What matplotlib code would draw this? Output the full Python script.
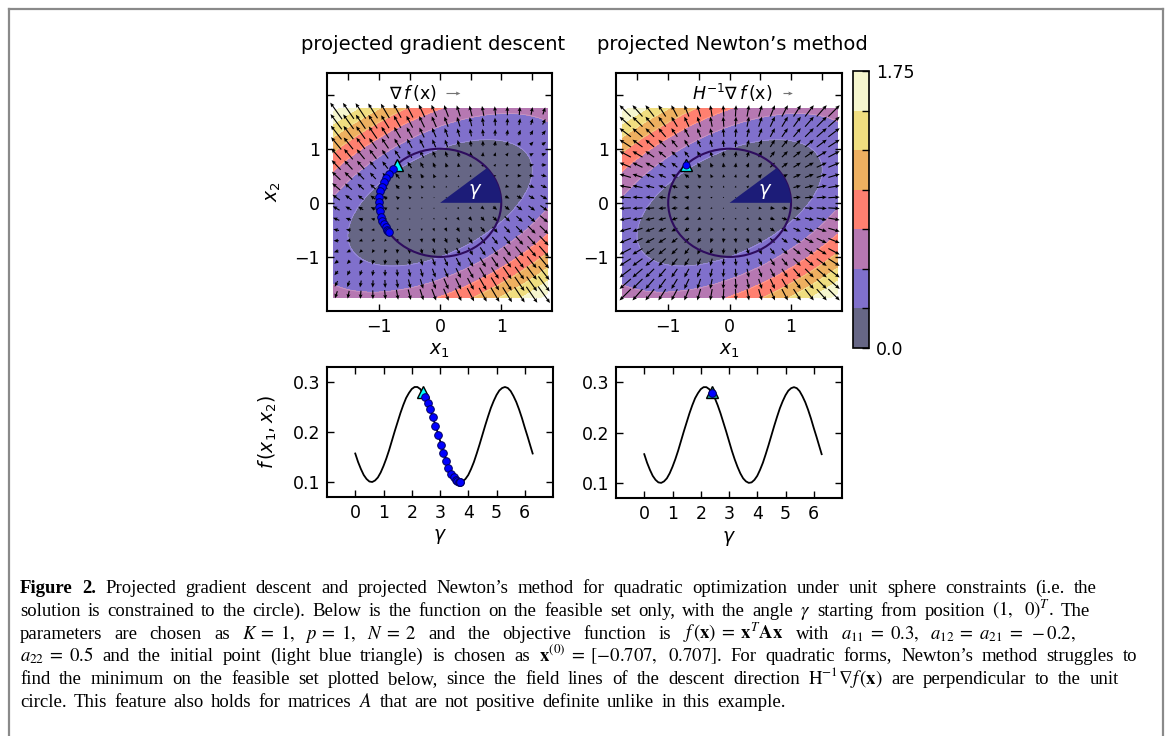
import numpy as np
import matplotlib
matplotlib.use("Agg")
import matplotlib.pyplot as plt
from matplotlib.colors import ListedColormap, BoundaryNorm
from matplotlib.patches import Circle, Wedge
from matplotlib.ticker import FixedLocator
from matplotlib.lines import Line2D

plt.rcParams['font.family'] = 'DejaVu Sans'
plt.rcParams['mathtext.fontset'] = 'dejavusans'

W, H = 1171, 736

# objective f(x) = 1/2 x^T A x, entries from the caption
a11, a12, a22 = 0.3, -0.2, 0.5
x_start = [-0.707, 0.707]

levels = [0.0, 0.25, 0.5, 0.75, 1.0, 1.25, 1.5, 1.75]
band_colors = ['#666685', '#8070cc', '#b678b2', '#ff8070', '#eeb060', '#f0de80', '#f6f6ce']

# f on the unit circle
gamma = [0.0, 0.1, 0.2, 0.3, 0.4, 0.5, 0.6, 0.7, 0.8, 0.9, 1.0, 1.1, 1.2, 1.3, 1.4, 1.5,
         1.6, 1.7, 1.8, 1.9, 2.0, 2.1, 2.2, 2.3, 2.4, 2.5, 2.6, 2.7, 2.8, 2.9, 3.0, 3.1,
         3.2, 3.3, 3.4, 3.5, 3.6, 3.7, 3.8, 3.9, 4.0, 4.1, 4.2, 4.3, 4.4, 4.5, 4.6, 4.7,
         4.8, 4.9, 5.0, 5.1, 5.2, 5.3, 5.4, 5.5, 5.6, 5.7, 5.8, 5.9, 6.0, 6.1, 6.2, 6.28]
f_circle = [0.157, 0.140, 0.126, 0.114, 0.106, 0.101, 0.100, 0.103, 0.109, 0.119, 0.132,
            0.147, 0.164, 0.183, 0.202, 0.220, 0.238, 0.254, 0.268, 0.278, 0.286, 0.290,
            0.290, 0.286, 0.278, 0.268, 0.254, 0.238, 0.220, 0.202, 0.183, 0.164, 0.147,
            0.132, 0.119, 0.109, 0.103, 0.100, 0.101, 0.106, 0.114, 0.126, 0.140, 0.157,
            0.175, 0.194, 0.213, 0.231, 0.248, 0.262, 0.274, 0.283, 0.288, 0.290, 0.288,
            0.282, 0.272, 0.260, 0.245, 0.228, 0.209, 0.191, 0.172, 0.157]

# projected gradient descent iterates (angle on circle, value)
gd_gamma = [2.46, 2.57, 2.66, 2.75, 2.84, 2.93, 3.03, 3.12, 3.21, 3.30, 3.40, 3.48,
            3.55, 3.61, 3.66, 3.70, 3.72]
gd_f = [0.271, 0.258, 0.246, 0.231, 0.213, 0.194, 0.175, 0.158, 0.143, 0.129, 0.117,
        0.110, 0.105, 0.102, 0.101, 0.100, 0.100]
start_gamma, start_f = 2.39, 0.281
newton_gamma, newton_f = 2.39, 0.278
wedge_angle = 40

caption = [
    "Figure 2. Projected gradient descent and projected Newton’s method for quadratic optimization under unit sphere constraints (i.e. the",
    r"solution is constrained to the circle). Below is the function on the feasible set only, with the angle $\gamma$ starting from position $(1,\ \ 0)^T$. The",
    r"parameters are chosen as $K\;=\;1,\ \ p\;=\;1,\ \ N\;=\;2$ and the objective function is $f\,(\mathbf{x})\;=\;\mathbf{x}^T\mathbf{A}\mathbf{x}$ with $a_{11}\;=\;0.3,\ \ a_{12}\;=\;a_{21}\;=\;-0.2,$",
    r"$a_{22}\;=\;0.5$ and the initial point (light blue triangle) is chosen as $\mathbf{x}^{(0)}\;=\;[-0.707,\ \ 0.707]$. For quadratic forms, Newton’s method struggles to",
    r"find the minimum on the feasible set plotted below, since the field lines of the descent direction $\mathrm{H}^{-1}\nabla f\,(\mathbf{x})$ are perpendicular to the unit",
    r"circle. This feature also holds for matrices $A$ that are not positive definite unlike in this example.",
]
cap_right = [1097, 1090, 1076, 1137, 1119, 786]
cap_base = [593, 616, 639, 661, 684, 707]
cap_left = 20
cap_size = 13.5

cmap = ListedColormap(band_colors)
norm = BoundaryNorm(levels, cmap.N)

xs = np.linspace(-1.75, 1.75, 141)
X, Y = np.meshgrid(xs, xs)
Z = 0.5 * (a11 * X**2 + 2 * a12 * X * Y + a22 * Y**2)
qs = np.arange(-1.7, 1.71, 0.2)
QX, QY = np.meshgrid(qs, qs)
GX = a11 * QX + a12 * QY
GY = a12 * QX + a22 * QY

fig = plt.figure(figsize=(W / 100, H / 100), dpi=100)


def px_axes(x0, y0, x1, y1):
    return fig.add_axes([x0 / W, 1 - y1 / H, (x1 - x0) / W, (y1 - y0) / H])


def style(ax):
    for s in ax.spines.values():
        s.set_linewidth(1.5)
    ax.tick_params(which='both', direction='in', top=True, right=True,
                   length=5, width=1, labelsize=12.5, pad=5)


def field_panel(ax, u, v, scale, key_x, key_u, key_label):
    cf = ax.contourf(X, Y, Z, levels=levels, cmap=cmap, norm=norm, zorder=1)
    ax.contour(X, Y, Z, levels=levels[1:-1], colors='white', linewidths=0.6, alpha=0.25, zorder=1)
    q = ax.quiver(QX, QY, u, v, pivot='middle', scale=scale, scale_units='inches',
                  width=0.005, headwidth=3.5, headlength=4, headaxislength=3.5,
                  color='k', zorder=3)
    ax.quiverkey(q, key_x, 0.916, key_u, key_label, labelpos='W', coordinates='axes',
                 color='0.45', labelsep=0.1, fontproperties={'size': 12.5})
    ax.add_patch(Circle((0, 0), 1, fill=False, ec='#2e0c5e', lw=1.5, zorder=4))
    ax.add_patch(Wedge((0, 0), 1, 0, wedge_angle, fc='#1c1c78', ec='none', zorder=4))
    ax.text(0.58, 0.2, r'$\gamma$', color='white', fontsize=14, ha='center', va='center', zorder=5)
    ax.set_xlim(-1.85, 1.83)
    ax.set_ylim(-2.0, 2.4)
    style(ax)
    ax.set_xticks([-1, 0, 1])
    ax.xaxis.set_minor_locator(FixedLocator([-1.5, -0.5, 0.5, 1.5]))
    ax.tick_params(axis='x', which='minor', bottom=False, top=True)
    ax.set_yticks([-1, 0, 1, 2], ['−1', '0', '1', ''])
    ax.set_xlabel(r'$x_1$', fontsize=13.5)
    return cf


# top row
ax1 = px_axes(327, 73, 552, 311)
cf = field_panel(ax1, GX, GY, 7.2, 0.531, 1.0, r'$\nabla\,f\,(\mathrm{x})$')
ax1.plot(x_start[0], x_start[1], '^', ms=8, mfc='cyan', mec='k', mew=1, zorder=6)
ax1.plot(np.cos(gd_gamma), np.sin(gd_gamma), 'o', ms=5.5, mfc='#0000ff', mec='#000060',
         mew=0.7, zorder=7)
ax1.set_ylabel(r'$x_2$', fontsize=13.5, labelpad=8)

ax2 = px_axes(616, 73, 842, 311)
field_panel(ax2, QX, QY, 15, 0.737, 1.4, r'$H^{-1}\nabla\,f\,(\mathrm{x})$')
ax2.plot(x_start[0], x_start[1], '^', ms=8, mfc='cyan', mec='k', mew=1, zorder=6)
ax2.plot(x_start[0], x_start[1], 'o', ms=5, mfc='#0000ff', mec='#000060', mew=0.7, zorder=7)

cax = px_axes(853, 71, 869, 348)
cb = fig.colorbar(cf, cax=cax, ticks=levels)
cb.ax.set_yticklabels(['0.0', '', '', '', '', '', '', '1.75'])
cb.ax.tick_params(direction='in', length=5, width=1, labelsize=12.5, pad=5)
cb.outline.set_linewidth(1.2)

fig.text(433 / W, 1 - 50 / H, 'projected gradient descent', ha='center', va='baseline', fontsize=14)
fig.text(732 / W, 1 - 50 / H, 'projected Newton’s method', ha='center', va='baseline', fontsize=14)


# bottom row
def curve_panel(ax):
    ax.plot(gamma, f_circle, color='k', lw=1.3, zorder=2)
    ax.set_xlim(-1, 7)
    ax.set_ylim(0.07, 0.33)
    style(ax)
    ax.set_xticks(range(7))
    ax.set_yticks([0.1, 0.2, 0.3])
    ax.set_xlabel(r'$\gamma$', fontsize=13.5)


ax3 = px_axes(327, 367, 553, 497)
curve_panel(ax3)
ax3.plot(start_gamma, start_f, '^', ms=8, mfc='cyan', mec='k', mew=1, zorder=3)
ax3.plot(gd_gamma, gd_f, 'o', ms=5.5, mfc='#0000ff', mec='#000060', mew=0.7, zorder=4)
ax3.set_ylabel(r'$f\,(x_1, x_2)$', fontsize=13.5, labelpad=10)

ax4 = px_axes(616, 367, 842, 498)
curve_panel(ax4)
ax4.plot(start_gamma, start_f, '^', ms=8, mfc='#20b0a0', mec='k', mew=1, zorder=3)
ax4.plot(newton_gamma, newton_f, 'o', ms=5.5, mfc='#0000ff', mec='#000060', mew=0.7, zorder=4)


def split_words(line):
    words, cur, in_math = [], '', False
    for ch in line:
        if ch == '$':
            in_math = not in_math
        if ch == ' ' and not in_math:
            words.append(cur)
            cur = ''
        else:
            cur += ch
    words.append(cur)
    return words


# caption, words spread over each line
renderer = fig.canvas.get_renderer()
for i, (line, right, base) in enumerate(zip(caption, cap_right, cap_base)):
    words = split_words(line)
    texts = []
    for j, w in enumerate(words):
        bold = i == 0 and j < 2
        texts.append(fig.text(0, 1 - base / H, w, family='Liberation Serif', size=cap_size,
                              weight='bold' if bold else 'normal', va='baseline',
                              math_fontfamily='stix'))
    widths = [t.get_window_extent(renderer).width for t in texts]
    gap = (right - cap_left - sum(widths)) / (len(words) - 1)
    x = cap_left
    for t, w in zip(texts, widths):
        t.set_x(x / W)
        x += w + gap

# page frame
for fx, fy in [((8.5, 8.5), (736, 8.5)), ((8.5, 1163), (8.5, 8.5)), ((1163, 1163), (8.5, 736))]:
    fig.add_artist(Line2D([v / W for v in fx], [1 - v / H for v in fy], color='#8a8a8a', lw=1.6))

fig.savefig('out.png', dpi=100)
